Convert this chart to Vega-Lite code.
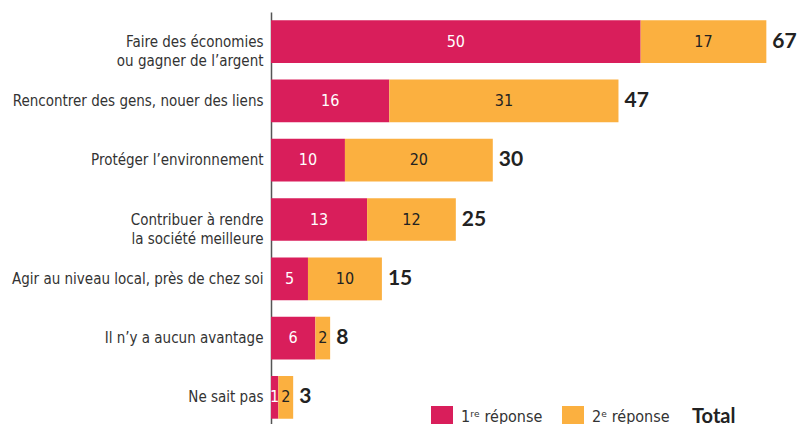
{
  "$schema": "https://vega.github.io/schema/vega-lite/v6.json",
  "autosize": {"type": "none"},
  "padding": {"left": 271, "top": 12, "right": 0, "bottom": 0},
  "width": 536,
  "height": 415,
  "background": "white",
  "config": {
    "view": {"stroke": null},
    "font": "DejaVu Sans Condensed"
  },
  "datasets": {
    "parts": [
      {"cat": "Faire des économies|ou gagner de l’argent", "rep": "1ʳᵉ réponse", "value": 50},
      {"cat": "Faire des économies|ou gagner de l’argent", "rep": "2ᵉ réponse", "value": 17},
      {"cat": "Rencontrer des gens, nouer des liens", "rep": "1ʳᵉ réponse", "value": 16},
      {"cat": "Rencontrer des gens, nouer des liens", "rep": "2ᵉ réponse", "value": 31},
      {"cat": "Protéger l’environnement", "rep": "1ʳᵉ réponse", "value": 10},
      {"cat": "Protéger l’environnement", "rep": "2ᵉ réponse", "value": 20},
      {"cat": "Contribuer à rendre|la société meilleure", "rep": "1ʳᵉ réponse", "value": 13},
      {"cat": "Contribuer à rendre|la société meilleure", "rep": "2ᵉ réponse", "value": 12},
      {"cat": "Agir au niveau local, près de chez soi", "rep": "1ʳᵉ réponse", "value": 5},
      {"cat": "Agir au niveau local, près de chez soi", "rep": "2ᵉ réponse", "value": 10},
      {"cat": "Il n’y a aucun avantage", "rep": "1ʳᵉ réponse", "value": 6},
      {"cat": "Il n’y a aucun avantage", "rep": "2ᵉ réponse", "value": 2},
      {"cat": "Ne sait pas", "rep": "1ʳᵉ réponse", "value": 1},
      {"cat": "Ne sait pas", "rep": "2ᵉ réponse", "value": 2}
    ],
    "totals": [
      {"cat": "Faire des économies|ou gagner de l’argent", "total": 67},
      {"cat": "Rencontrer des gens, nouer des liens", "total": 47},
      {"cat": "Protéger l’environnement", "total": 30},
      {"cat": "Contribuer à rendre|la société meilleure", "total": 25},
      {"cat": "Agir au niveau local, près de chez soi", "total": 15},
      {"cat": "Il n’y a aucun avantage", "total": 8},
      {"cat": "Ne sait pas", "total": 3}
    ]
  },
  "encoding": {
    "y": {
      "field": "cat",
      "type": "nominal",
      "sort": [
        "Faire des économies|ou gagner de l’argent",
        "Rencontrer des gens, nouer des liens",
        "Protéger l’environnement",
        "Contribuer à rendre|la société meilleure",
        "Agir au niveau local, près de chez soi",
        "Il n’y a aucun avantage",
        "Ne sait pas"
      ],
      "scale": {"paddingInner": 0.28, "paddingOuter": 0.14},
      "axis": {
        "title": null,
        "ticks": false,
        "domainColor": "#555555",
        "domainWidth": 1.5,
        "labelExpr": "split(datum.label, '|')",
        "labelFontSize": 15,
        "labelColor": "#333333",
        "labelFont": "DejaVu Sans Condensed",
        "labelPadding": 8,
        "labelLineHeight": 19,
        "labelLimit": 300
      }
    }
  },
  "layer": [
    {
      "data": {"name": "parts"},
      "mark": {"type": "bar"},
      "encoding": {
        "x": {
          "field": "value",
          "type": "quantitative",
          "stack": "zero",
          "scale": {"domain": [0, 72.5], "nice": false},
          "axis": null
        },
        "order": {"field": "rep"},
        "color": {
          "field": "rep",
          "type": "nominal",
          "scale": {"domain": ["1ʳᵉ réponse", "2ᵉ réponse"], "range": ["#D91E5B", "#FBB040"]},
          "legend": {
            "orient": "none",
            "legendX": 160,
            "legendY": 394,
            "direction": "horizontal",
            "title": "Total",
            "titleOrient": "right",
            "titleFontSize": 20,
            "titleFontWeight": "bold",
            "titleFont": "Lato",
            "titleColor": "#222222",
            "titlePadding": 22,
            "symbolType": "square",
            "symbolSize": 484,
            "symbolStrokeWidth": 0,
            "labelFontSize": 16,
            "labelFont": "DejaVu Sans Condensed",
            "labelColor": "#333333",
            "labelOffset": 8,
            "columnPadding": 19,
            "padding": 0
          }
        }
      }
    },
    {
      "data": {"name": "parts"},
      "mark": {"type": "text", "fontSize": 16, "baseline": "middle", "align": "center", "font": "DejaVu Sans Condensed"},
      "encoding": {
        "x": {
          "field": "value",
          "type": "quantitative",
          "stack": "zero",
          "bandPosition": 0.5
        },
        "order": {"field": "rep"},
        "text": {"field": "value", "type": "quantitative"},
        "color": {
          "condition": {"test": "datum.rep == '1ʳᵉ réponse'", "value": "white"},
          "value": "#222222"
        }
      }
    },
    {
      "data": {"name": "totals"},
      "mark": {"type": "text", "fontSize": 21, "fontWeight": "bold", "font": "Lato", "align": "left", "baseline": "middle", "dx": 6, "color": "#222222"},
      "encoding": {
        "x": {"field": "total", "type": "quantitative"},
        "text": {"field": "total", "type": "quantitative"}
      }
    }
  ]
}
